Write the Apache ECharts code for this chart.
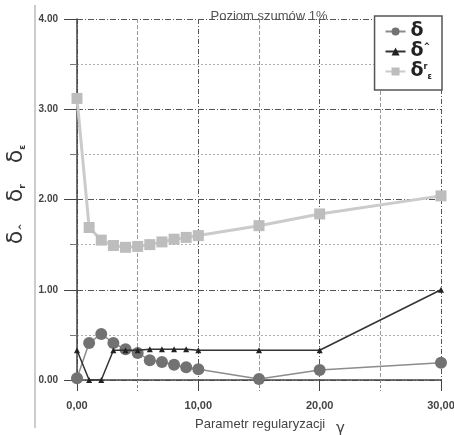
<!DOCTYPE html>
<html><head><meta charset="utf-8">
<script src="https://cdn.jsdelivr.net/npm/echarts@6/dist/echarts.min.js"></script>
<style>html,body{margin:0;padding:0;background:#fff}#c{width:454px;height:435px}</style>
</head><body><div id="c"></div>
<script>
var xValues = [0,1,2,3,4,5,6,7,8,9,10,15,20,30];
var deltaValues = [0.02,0.41,0.51,0.41,0.34,0.30,0.22,0.20,0.17,0.14,0.12,0.01,0.11,0.19];
var deltaHatValues = [0.33,0,0,0.33,0.33,0.33,0.34,0.34,0.34,0.34,0.33,0.33,0.33,1.0];
var deltaRValues = [3.12,1.69,1.55,1.49,1.47,1.48,1.50,1.53,1.56,1.58,1.60,1.71,1.84,2.04];
var seriesNames = ['d', 'dhat', 'dr'];
var titleText = 'Poziom szumów 1%';
var xTitle = 'Parametr regularyzacji';

function pairs(xs, ys){ return xs.map(function(x,i){ return [x, ys[i]]; }); }
var font = 'Liberation Sans, Arial, sans-serif';
var chart = echarts.init(document.getElementById('c'));
chart.setOption({
  backgroundColor: '#fff',
  animation: false,
  title: { text: titleText, left: 264, top: 5, textAlign: 'center',
    textStyle: { fontFamily: font, fontSize: 13, fontWeight: 'normal', color: '#555' } },
  grid: { left: 77, right: 13, top: 19, bottom: 55, outerBoundsMode: 'none', containLabel: false },
  legend: {
    orient: 'vertical', right: 12, top: 16, itemWidth: 20, itemHeight: 10, itemGap: 1,
    padding: [6, 10, 9, 10], borderColor: '#555', borderWidth: 1.5, backgroundColor: '#fff',
    data: seriesNames,
    formatter: function(n){
      if (n === 'd') return 'δ';
      if (n === 'dhat') return 'δ{sup|^}';
      return 'δ{sup|r}{sub|ε}';
    },
    textStyle: { fontFamily: 'DejaVu Sans', fontSize: 19, fontWeight: 'bold', color: '#222', lineHeight: 18,
      rich: { sup: { fontSize: 8, verticalAlign: 'top', color: '#222', fontWeight: 'bold' },
              sub: { fontSize: 8, verticalAlign: 'bottom', color: '#222', fontWeight: 'bold' } } }
  },
  xAxis: {
    type: 'value', min: 0, max: 30, interval: 10,
    name: xTitle + '   {g|γ}', nameLocation: 'middle', nameGap: 32,
    nameTextStyle: { fontFamily: font, fontSize: 13, color: '#444', padding: [0, 0, 0, 22],
      rich: { g: { fontFamily: 'DejaVu Sans', fontSize: 15, color: '#444', padding: [10, 0, 0, 0] } } },
    axisLine: { show: true, onZero: false, lineStyle: { color: '#444', width: 1.5 } },
    axisTick: { show: true, length: 11, lineStyle: { color: '#444', width: 1 } },
    minorTick: { show: true, splitNumber: 2, length: 11, lineStyle: { color: '#888', type: [3, 2] } },
    axisLabel: { margin: 20, fontFamily: font, fontSize: 11, color: '#444', fontWeight: 'bold',
      formatter: function(v){ return v.toFixed(2).replace('.', ','); } },
    splitLine: { show: true, lineStyle: { color: '#555', type: [5, 2, 1, 2], width: 1 } },
    minorSplitLine: { show: true, lineStyle: { color: '#999', type: [4, 2], width: 1 } }
  },
  yAxis: {
    type: 'value', min: 0, max: 4, interval: 1,
    name: 'δ{s|^}   δ{s|r}   δ{s|ε}', nameLocation: 'middle', nameRotate: 90, nameGap: 45,
    nameTextStyle: { fontFamily: 'DejaVu Sans', fontSize: 22, color: '#333', padding: [0, 0, 0, 10],
      rich: { s: { fontSize: 9, verticalAlign: 'bottom', fontWeight: 'bold', color: '#333' } } },
    axisLine: { show: true, lineStyle: { color: '#444', width: 1.5 } },
    axisTick: { show: true, length: 13, lineStyle: { color: '#444', width: 1 } },
    minorTick: { show: true, splitNumber: 2, length: 7, lineStyle: { color: '#777' } },
    axisLabel: { margin: 19, fontFamily: font, fontSize: 10, color: '#444', fontWeight: 'bold',
      formatter: function(v){ return v.toFixed(2); } },
    splitLine: { show: true, lineStyle: { color: '#555', type: [6, 2, 1, 2], width: 1 } },
    minorSplitLine: { show: true, lineStyle: { color: '#aaa', type: [2, 2], width: 1 } }
  },
  graphic: [
    { type: 'line', shape: { x1: 35, y1: 5, x2: 35, y2: 428 }, style: { stroke: '#999', lineWidth: 1 }, z: 0 }
  ],
  series: [
    { name: 'dr', type: 'line', data: pairs(xValues, deltaRValues), symbol: 'rect', symbolSize: 11,
      itemStyle: { color: '#bdbdbd' }, lineStyle: { color: '#cbcbcb', width: 3 }, z: 2 },
    { name: 'd', type: 'line', data: pairs(xValues, deltaValues), symbol: 'circle', symbolSize: 12,
      itemStyle: { color: '#727272' }, lineStyle: { color: '#8c8c8c', width: 1.5 }, z: 3 },
    { name: 'dhat', type: 'line', data: pairs(xValues, deltaHatValues), symbol: 'triangle', symbolSize: 6,
      itemStyle: { color: '#222' }, lineStyle: { color: '#333', width: 1.5 }, z: 4 }
  ]
});
</script></body></html>
